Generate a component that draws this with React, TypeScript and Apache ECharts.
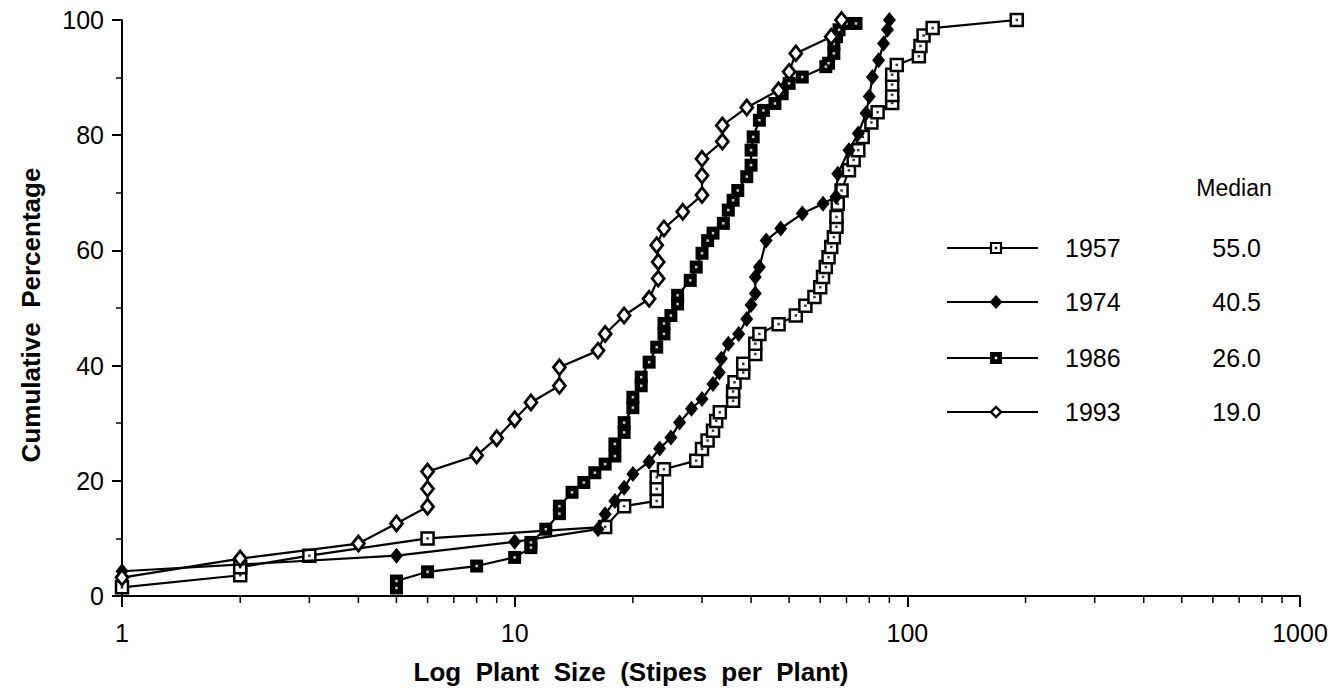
import React, { useEffect, useRef } from "react";
import * as echarts from "echarts";

// Cumulative size distributions: [stipes per plant, cumulative %]
const s1957: number[][] = [
  [1, 1.5], [2, 3.6], [2, 5.0], [3, 7.0], [6, 10.0], [17, 12.0], [19, 15.6],
  [23, 16.5], [23, 18.6], [23, 20.6], [24, 22.0], [29, 23.5], [30, 25.5],
  [31, 27.0], [32, 28.7], [32.6, 30.4], [33.3, 31.9], [36, 33.9], [36, 35.5],
  [36.3, 37.1], [38.2, 38.8], [38.2, 40.3], [41, 42.0], [41, 43.8], [42, 45.5],
  [47, 47.2], [52, 48.7], [55, 50.4], [58, 51.9], [60, 53.6], [61, 55.4],
  [62, 57.1], [63, 58.8], [64, 60.6], [65, 62.3], [66, 64.1], [66, 65.8],
  [66.5, 68.1], [68, 70.4], [71, 73.9], [73, 75.7], [75, 77.4], [77, 79.7],
  [81, 82.2], [84, 84.0], [91.5, 85.6], [91.5, 87.0], [91.5, 88.8],
  [91.5, 90.5], [94, 92.2], [107, 93.7], [108, 95.5], [110, 97.3], [116, 98.6],
  [190, 100],
];

const s1974: number[][] = [
  [1, 4.3], [5, 7.0], [10, 9.4], [16.3, 11.6], [17, 14.2], [18, 16.5],
  [19, 18.8], [20, 21.2], [22, 23.3], [23.4, 25.6], [25, 27.5], [26.3, 30.1],
  [28.2, 32.5], [30, 34.2], [32, 36.8], [33.2, 38.8], [33.6, 41.2],
  [35, 43.8], [37.2, 45.5], [39, 48.1], [40, 50.5], [41, 52.5], [41, 55.4],
  [42, 57.1], [43.7, 61.7], [47.6, 63.8], [54, 66.4], [61, 68.1],
  [65.8, 69.3], [66.5, 73.3], [71, 77.4], [75, 80.3], [78.5, 83.8],
  [80, 86.7], [81.5, 90.1], [84.5, 93.0], [87, 95.9], [89, 98.3], [90, 100],
];

const s1986: number[][] = [
  [5, 1.4], [5, 2.6], [6, 4.2], [8, 5.2], [10, 6.7], [11, 8.4], [11, 9.3],
  [12, 11.6], [13, 14.3], [13, 15.6], [14, 18.0], [15, 19.7], [16, 21.4],
  [17, 22.9], [18, 24.3], [18, 26.4], [19, 28.4], [19, 30.1], [20, 32.7],
  [20, 34.5], [21, 36.5], [21, 38.0], [22, 40.6], [23, 43.2], [24, 45.5],
  [24, 47.3], [25, 48.7], [26, 50.7], [26, 52.2], [28, 54.8], [29, 57.1],
  [30, 59.5], [31, 61.7], [32, 63.0], [34, 64.7], [35, 67.0], [36, 68.7],
  [37, 70.4], [39, 72.8], [40, 74.8], [40, 77.4], [40.5, 79.7], [42, 82.6],
  [43, 84.3], [46, 85.5], [48, 87.2], [50, 89.0], [54, 90.1], [62, 91.9],
  [63, 92.5], [65, 94.2], [65, 95.9], [66, 97.1], [67, 98.3], [70, 99.4],
  [74, 99.4],
];

const s1993: number[][] = [
  [1, 3.2], [2, 6.5], [4, 9.1], [5, 12.6], [6, 15.5], [6, 18.6], [6, 21.6],
  [8, 24.4], [9, 27.4], [10, 30.7], [11, 33.6], [13, 36.5], [13, 39.7],
  [16.3, 42.6], [17, 45.5], [19, 48.7], [22, 51.6], [23.2, 55.1],
  [23.2, 58.0], [23, 60.9], [24, 63.8], [26.8, 66.7], [30, 69.6], [30, 73.0],
  [30, 75.9], [33.8, 78.9], [33.8, 81.7], [39, 84.8], [47, 87.8], [50, 91.0],
  [52, 94.2], [64, 97.1], [68, 100],
];

const legendYears = ["1957", "1974", "1986", "1993"];
const legendMedians = ["55.0", "40.5", "26.0", "19.0"];
const minorXTicks = [2, 3, 4, 5, 6, 7, 8, 9, 20, 30, 40, 50, 60, 70, 80, 90, 200, 300, 400, 500, 600, 700, 800, 900];

const FONT = '"Liberation Sans", Arial, Helvetica, sans-serif';
const NARROW = '"Liberation Sans Narrow", "Liberation Sans", Arial, sans-serif';

export default function App() {
  const ref = useRef<HTMLDivElement>(null);

  useEffect(() => {
    if (!ref.current) return;
    const chart = echarts.init(ref.current, undefined, { renderer: "svg" });

    const lineBase = (name: string, data: number[][], symbol: string, size: any, fill: string, bw: number, z: number) => ({
      type: "line",
      name,
      data,
      symbol,
      symbolSize: size,
      showAllSymbol: true,
      lineStyle: { color: "#000", width: 2.2 },
      itemStyle: { color: fill, borderColor: "#000", borderWidth: bw },
      z,
      silent: true,
    });
    const dots = (data: number[][], color: string, z: number) => ({
      type: "scatter",
      data,
      symbol: "rect",
      symbolSize: 2.5,
      itemStyle: { color },
      z,
      silent: true,
    });

    // legend graphics
    const rowsY = [248, 302, 358, 412];
    const legendGraphics: any[] = [];
    const mx = 996;
    rowsY.forEach((y, i) => {
      legendGraphics.push({
        type: "line",
        shape: { x1: 947, y1: y, x2: 1038, y2: y },
        style: { stroke: "#000", lineWidth: 2 },
      });
      if (i === 0 || i === 2) {
        const s = i === 0 ? 10 : 12;
        legendGraphics.push({
          type: "rect",
          shape: { x: mx - s / 2, y: y - s / 2, width: s, height: s },
          style: { fill: i === 0 ? "#fff" : "#000", stroke: "#000", lineWidth: i === 0 ? 2.2 : 0 },
        });
        legendGraphics.push({
          type: "rect",
          shape: { x: mx - 1.2, y: y - 1.2, width: 2.4, height: 2.4 },
          style: { fill: i === 0 ? "#000" : "#fff" },
        });
      } else {
        const w = i === 1 ? 6.5 : 5;
        const h = i === 1 ? 7 : 5;
        legendGraphics.push({
          type: "polygon",
          shape: { points: [[mx, y - h], [mx + w, y], [mx, y + h], [mx - w, y]] },
          style: { fill: i === 1 ? "#000" : "#fff", stroke: "#000", lineWidth: i === 1 ? 0 : 2.4 },
        });
      }
      legendGraphics.push({
        type: "text",
        x: 1065,
        y,
        style: { text: legendYears[i], font: `25px ${FONT}`, fill: "#000", align: "left", verticalAlign: "middle" },
      });
      legendGraphics.push({
        type: "text",
        x: 1261,
        y,
        style: { text: legendMedians[i], font: `25px ${FONT}`, fill: "#000", align: "right", verticalAlign: "middle" },
      });
    });
    legendGraphics.push({
      type: "text",
      x: 1234,
      y: 188,
      style: { text: "Median", font: `23px ${FONT}`, fill: "#000", align: "center", verticalAlign: "middle" },
    });
    legendGraphics.push({
      type: "text",
      x: 631,
      y: 672,
      style: { text: "Log  Plant  Size  (Stipes  per  Plant)", font: `bold 26px ${FONT}`, fill: "#000", align: "center", verticalAlign: "middle" },
    });
    legendGraphics.push({
      type: "text",
      x: 31,
      y: 315,
      rotation: Math.PI / 2,
      style: { text: "Cumulative  Percentage", font: `bold 26px ${FONT}`, fill: "#000", align: "center", verticalAlign: "middle" },
    });

    chart.setOption({
      animation: false,
      backgroundColor: "#fff",
      grid: { left: 122, right: 34, top: 20, bottom: 92, containLabel: false },
      xAxis: {
        type: "log",
        logBase: 10,
        min: 1,
        max: 1000,
        axisLine: { show: true, lineStyle: { color: "#000", width: 2 } },
        axisTick: { show: true, length: 11, lineStyle: { color: "#000", width: 2 } },
        minorTick: { show: false },
        axisLabel: {
          color: "#000",
          fontSize: 25,
          fontFamily: NARROW,
          margin: 24,
          formatter: (v: number) => String(Math.round(v)),
        },
        splitLine: { show: false },
      },
      yAxis: {
        type: "value",
        min: 0,
        max: 100,
        interval: 20,
        axisLine: { show: true, lineStyle: { color: "#000", width: 2 } },
        axisTick: { show: true, length: 10, lineStyle: { color: "#000", width: 2 } },
        minorTick: { show: true, splitNumber: 2, length: 6, lineStyle: { color: "#000", width: 1.5 } },
        axisLabel: { color: "#000", fontSize: 25, fontFamily: FONT, margin: 18 },
        splitLine: { show: false },
      },
      graphic: legendGraphics,
      series: [
        {
          type: "custom",
          coordinateSystem: "cartesian2d",
          clip: false,
          silent: true,
          data: minorXTicks.map((v) => [v, 0]),
          renderItem: (params: any, api: any) => {
            const p = api.coord([api.value(0), api.value(1)]);
            return {
              type: "line",
              shape: { x1: p[0], y1: p[1], x2: p[0], y2: p[1] + 7 },
              style: { stroke: "#000", lineWidth: 1.5 },
            };
          },
        },
        lineBase("1957", s1957, "rect", 12, "#fff", 2.5, 3),
        dots(s1957, "#000", 4),
        lineBase("1974", s1974, "diamond", [13, 16], "#000", 0, 5),
        lineBase("1986", s1986, "rect", 13, "#000", 0, 6),
        dots(s1986, "#fff", 7),
        lineBase("1993", s1993, "diamond", [12, 15], "#fff", 2.8, 8),
      ],
    });

    return () => chart.dispose();
  }, []);

  return (
    <div
      ref={ref}
      style={{ position: "fixed", left: 0, top: 0, width: 1334, height: 688, background: "#fff" }}
    />
  );
}
